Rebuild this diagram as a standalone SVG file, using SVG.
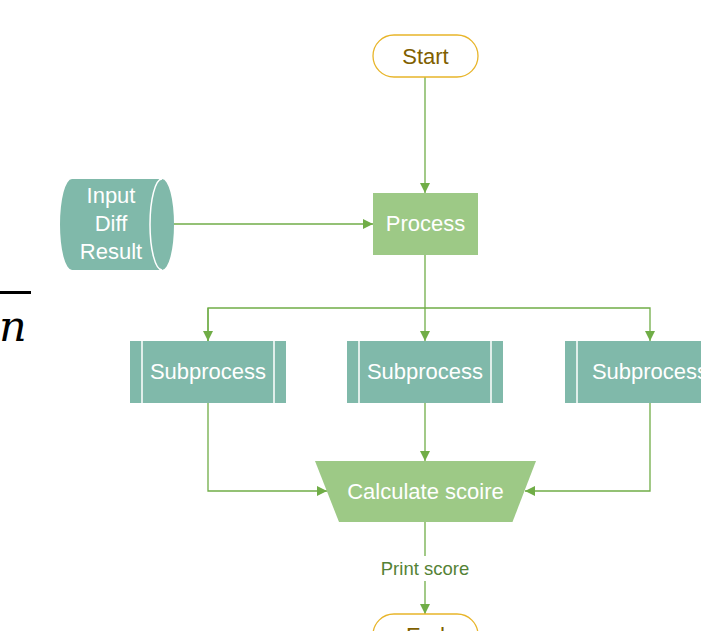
<svg xmlns="http://www.w3.org/2000/svg" width="701" height="631" viewBox="0 0 701 631">
<defs>
<style>
.lbl{font-family:"Liberation Sans",Arial,sans-serif;font-size:22px;fill:#ffffff;text-anchor:middle}
.conn{fill:none;stroke:#70AD47;stroke-width:1.3}
.teal{fill:#80B9AA}
.green{fill:#9DC986}
.div{stroke:#ffffff;stroke-width:1.5;fill:none}
</style>
<marker id="arr" viewBox="0 0 10 10" refX="10" refY="5" markerWidth="10" markerHeight="10" markerUnits="userSpaceOnUse" orient="auto">
<path d="M0,0 L10,5 L0,10 Z" fill="#70AD47"/>
</marker>
</defs>
<rect width="701" height="631" fill="#ffffff"/>
<g id="math">
<rect x="0" y="291" width="31" height="3" fill="#000000"/>
<text x="-1" y="341" font-family="'DejaVu Serif',serif" font-style="italic" font-size="43" fill="#000000">n</text>
</g>
<g id="connectors">
<path class="conn" d="M425,77 V193" marker-end="url(#arr)"/>
<path class="conn" d="M165,224 H373" marker-end="url(#arr)"/>
<path class="conn" d="M425,255 V341" marker-end="url(#arr)"/>
<path class="conn" d="M208,341 V308 H650 V341" marker-end="url(#arr)"/>
<path class="conn" d="M208,308 V341" marker-end="url(#arr)"/>
<path class="conn" d="M208,403 V491 H327" marker-end="url(#arr)"/>
<path class="conn" d="M425,403 V461" marker-end="url(#arr)"/>
<path class="conn" d="M650,403 V491 H525" marker-end="url(#arr)"/>
<path class="conn" d="M425,522 V556"/>
<path class="conn" d="M425,581 V614" marker-end="url(#arr)"/>
<text x="425" y="575" font-family="'Liberation Sans',Arial,sans-serif" font-size="18.5" fill="#548235" text-anchor="middle">Print score</text>
</g>
<g id="start">
<rect x="373" y="35" width="105" height="42" rx="21" fill="#ffffff" stroke="#E8B52A" stroke-width="1.3"/>
<text x="425.5" y="63.5" class="lbl" style="fill:#7F6000">Start</text>
</g>
<g id="input">
<path class="teal" d="M72,179 H162 A12,45.5 0 0 1 162,270 H72 A12,45.5 0 0 1 72,179 Z"/>
<path class="div" d="M162,179 A12,45.5 0 0 0 162,270"/>
<text class="lbl" x="111" y="203">Input</text>
<text class="lbl" x="111" y="231">Diff</text>
<text class="lbl" x="111" y="259">Result</text>
</g>
<g id="process">
<rect class="green" x="373" y="193" width="105" height="62"/>
<text class="lbl" x="425.5" y="231">Process</text>
</g>
<g id="sub1">
<rect class="teal" x="130" y="341" width="156" height="62"/>
<path class="div" d="M142,341 V403 M274,341 V403"/>
<text class="lbl" x="208" y="379">Subprocess</text>
</g>
<g id="sub2">
<rect class="teal" x="347" y="341" width="156" height="62"/>
<path class="div" d="M359,341 V403 M491,341 V403"/>
<text class="lbl" x="425" y="379">Subprocess</text>
</g>
<g id="sub3">
<rect class="teal" x="565" y="341" width="170" height="62"/>
<path class="div" d="M577,341 V403 M723,341 V403"/>
<text class="lbl" x="650" y="379">Subprocess</text>
</g>
<g id="calc">
<path class="green" d="M315,461 H536 L512.5,522 H339 Z"/>
<text class="lbl" x="425.5" y="499">Calculate scoire</text>
</g>
<g id="end">
<rect x="373" y="614" width="105" height="42" rx="21" fill="#ffffff" stroke="#E8B52A" stroke-width="1.3"/>
<text x="425.5" y="642.5" class="lbl" style="fill:#7F6000">End</text>
</g>
</svg>
